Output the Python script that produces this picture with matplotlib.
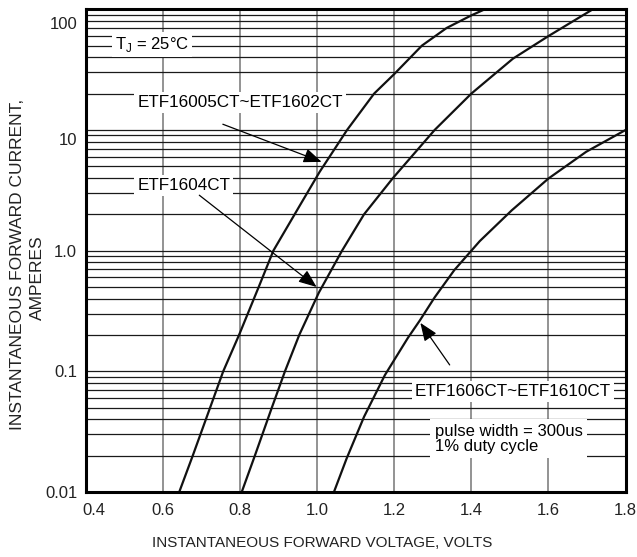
import numpy as np
import matplotlib
matplotlib.use('Agg')
import matplotlib.pyplot as plt
from matplotlib.ticker import LogLocator, NullFormatter
import matplotlib.transforms as mtransforms

plt.rcParams['font.family'] = ['Liberation Sans', 'DejaVu Sans']

# ---- data ----
v_16005 = [0.643, 0.678, 0.723, 0.757, 0.798, 0.849, 0.887, 0.956, 1.007, 1.078, 1.148, 1.200, 1.272, 1.336, 1.400, 1.435]
i_16005 = [0.01, 0.02, 0.05, 0.1, 0.2, 0.5, 1.0, 2.38, 4.5, 10, 20, 29, 50, 70, 89, 100]

v_1604 = [0.805, 0.839, 0.883, 0.917, 0.954, 1.005, 1.065, 1.122, 1.197, 1.305, 1.40, 1.508, 1.60, 1.715]
i_1604 = [0.01, 0.02, 0.05, 0.1, 0.2, 0.45, 1.0, 2.0, 4.0, 10, 20, 39, 60, 100]

v_1606 = [1.044, 1.077, 1.122, 1.176, 1.236, 1.267, 1.305, 1.356, 1.422, 1.505, 1.60, 1.698, 1.80]
i_1606 = [0.01, 0.019, 0.042, 0.093, 0.19, 0.265, 0.41, 0.69, 1.2, 2.16, 3.96, 6.6, 10]

x_ticks = [0.4, 0.6, 0.8, 1.0, 1.2, 1.4, 1.6, 1.8]
x_ticklabels = ['0.4', '0.6', '0.8', '1.0', '1.2', '1.4', '1.6', '1.8']
y_ticks = [0.01, 0.1, 1, 10, 100]
y_ticklabels = ['0.01', '0.1', '1.0', '10', '100']

fig = plt.figure(figsize=(6.37, 5.57), dpi=100)
W, H = 637, 557
ax = fig.add_axes([85.5 / W, 1 - 492 / H, (625.6 - 85.5) / W, (492 - 9.3) / H])
ax.set_yscale('log')
ax.set_xlim(0.4, 1.8)
ax.set_ylim(0.01, 100)

ax.set_xticks(x_ticks)
ax.set_xticklabels(x_ticklabels)
ax.set_yticks(y_ticks)
ax.set_yticklabels(y_ticklabels)
ax.yaxis.set_minor_locator(LogLocator(base=10, subs=np.arange(2, 10)))
ax.yaxis.set_minor_formatter(NullFormatter())
ax.tick_params(axis='both', which='both', length=0, labelsize=12, colors='#222222')
ax.tick_params(axis='x', pad=8)
ax.tick_params(axis='y', pad=6)

ax.set_axisbelow(True)
ax.grid(axis='y', which='both', color='#1a1a1a', lw=0.9)
ax.grid(axis='x', which='major', color='#808080', lw=1.2)

for s in ax.spines.values():
    s.set_linewidth(2.2)
    s.set_color('black')
    s.set_zorder(6)

# curves
for v, i in [(v_16005, i_16005), (v_1604, i_1604), (v_1606, i_1606)]:
    ax.plot(v, i, color='#111111', lw=1.6, zorder=4, solid_joinstyle='round')

# annotation texts with white boxes
box = dict(boxstyle='square,pad=0.18', fc='white', ec='none')
ax.text(0.476, 51, 'T$_{\\mathregular{J}}$ = 25°C', fontsize=12, ha='left', va='center', bbox=box, zorder=3)
ax.text(0.534, 17, 'ETF16005CT~ETF1602CT', fontsize=12.3, ha='left', va='center', bbox=box, zorder=3)
ax.text(0.534, 3.47, 'ETF1604CT', fontsize=12.3, ha='left', va='center', bbox=box, zorder=3)
ax.text(1.2536, 0.068, 'ETF1606CT~ETF1610CT', fontsize=12.3, ha='left', va='center', bbox=box, zorder=3)
ax.text(1.305, 0.0277, 'pulse width = 300us\n1% duty cycle', fontsize=12, ha='left', va='center',
        linespacing=1.0, bbox=dict(boxstyle='square,pad=0.25', fc='white', ec='none'), zorder=3)

arrow = dict(arrowstyle='-|>,head_length=0.55,head_width=0.22', color='black', lw=0.9,
             shrinkA=0, shrinkB=0, mutation_scale=20)
ax.annotate('', xy=(1.012, 5.44), xytext=(0.756, 11.16), arrowprops=arrow, zorder=5)
ax.annotate('', xy=(0.999, 0.50), xytext=(0.695, 2.88), arrowprops=arrow, zorder=5)
ax.annotate('', xy=(1.268, 0.252), xytext=(1.344, 0.113), arrowprops=arrow, zorder=5)

# axis titles
fig.text(18 / W, 1 - 264 / H, 'INSTANTANEOUS FORWARD CURRENT,', rotation=90, ha='center', va='center',
         fontsize=12.5, color='#222222')
fig.text(37 / W, 1 - 278 / H, 'AMPERES', rotation=90, ha='center', va='center', fontsize=12.5, color='#222222')
fig.text(322 / W, 1 - 543 / H, 'INSTANTANEOUS FORWARD VOLTAGE, VOLTS', ha='center', va='center',
         fontsize=11, color='#222222')

# small label offsets as in the reference
def shift(label, dx_px, dy_px):
    label.set_transform(label.get_transform() +
                        mtransforms.ScaledTranslation(dx_px / 100, dy_px / 100, fig.dpi_scale_trans))

ylabs = ax.get_yticklabels()
shift(ylabs[4], 0, -14)
shift(ylabs[3], 0, -9)
xlabs = ax.get_xticklabels()
shift(xlabs[0], 8, 0)

fig.savefig('out.png', dpi=100)
